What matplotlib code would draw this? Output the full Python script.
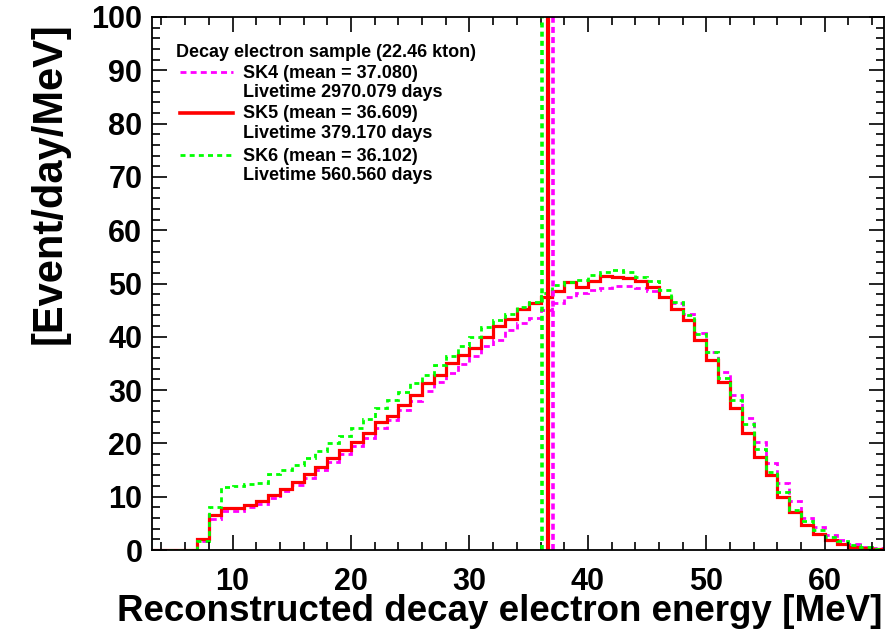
import numpy as np
import matplotlib
matplotlib.use("Agg")
import matplotlib.pyplot as plt
from matplotlib.lines import Line2D
from matplotlib.ticker import MultipleLocator

plt.rcParams['font.family'] = ['Liberation Sans', 'DejaVu Sans']
plt.rcParams['font.weight'] = 'bold'
plt.rcParams['lines.scale_dashes'] = False

# ---- data (Event/day/MeV per 1 MeV bin, lower edges 3..64) ----
bin_low_edges = list(range(3, 65))
sk4_values = [0, 0, 0, 0,
              1.7, 5.8, 7.3, 7.4, 8.0, 8.7, 9.8, 11.0, 12.2, 13.6, 15.0, 16.5, 18.0, 19.5,
              21.0, 22.8, 24.3, 26.3, 28.0, 29.8, 31.5, 33.2, 34.9, 36.4, 38.2, 39.4, 41.2,
              42.5, 43.5, 45.0, 46.3, 47.5, 48.2, 48.8, 49.2, 49.5, 49.5, 49.2, 48.5, 47.5,
              46.3, 44.3, 40.8, 37.2, 33.4, 29.1, 24.7, 20.3, 16.4, 12.5, 9.1, 6.0, 4.3, 2.8,
              1.9, 1.1, 0.6, 0.3]
sk5_values = [0, 0, 0, 0,
              2.0, 6.6, 7.8, 7.8, 8.4, 9.2, 10.3, 11.5, 12.8, 14.2, 15.6, 17.2, 18.8, 20.2,
              21.9, 24.0, 25.2, 27.2, 29.1, 31.3, 32.9, 35.0, 36.5, 37.9, 39.9, 42.0, 43.4,
              45.2, 46.3, 47.4, 48.5, 50.2, 49.4, 50.5, 51.4, 51.3, 51.1, 50.5, 49.3, 47.5,
              45.3, 43.1, 39.4, 35.7, 31.6, 26.6, 21.9, 17.5, 14.0, 9.9, 7.2, 4.7, 3.0, 1.9,
              1.1, 0.5, 0.3, 0.1]
sk6_values = [0, 0, 0, 0,
              1.6, 8.0, 11.9, 12.1, 12.3, 12.6, 14.2, 15.0, 15.9, 17.2, 18.5, 20.1, 21.4, 22.9,
              24.5, 26.6, 28.1, 29.7, 31.3, 32.8, 34.7, 36.4, 38.2, 40.0, 41.9, 43.1, 44.2,
              45.6, 46.6, 48.2, 49.7, 50.3, 50.7, 51.6, 52.2, 52.5, 52.2, 51.3, 50.5, 48.8,
              46.6, 44.1, 40.5, 37.1, 32.2, 28.1, 23.7, 18.9, 14.7, 10.8, 7.5, 5.5, 3.7, 2.4,
              1.6, 0.9, 0.5, 0.25]
sk_means = [37.080, 36.609, 36.102]
sk_names = ["SK4", "SK5", "SK6"]
sk_livetimes = ["2970.079", "379.170", "560.560"]
legend_title = "Decay electron sample (22.46 kton)"

edges = np.array(bin_low_edges + [bin_low_edges[-1] + 1], dtype=float)

W, H = 890, 632
fig = plt.figure(figsize=(W / 100, H / 100), dpi=100)
ax = fig.add_axes([152 / W, 1 - 550 / H, (884 - 152) / W, (550 - 17) / H])

styles = [
    dict(color="#FF00FF", lw=2.0, ls=(0, (4.3, 3.0))),
    dict(color="#FF0000", lw=2.3, ls="-"),
    dict(color="#00FF00", lw=2.0, ls=(0, (3.6, 3.0))),
]
series = [sk4_values, sk5_values, sk6_values]

for vals, st in zip(series, styles):
    ax.stairs(vals, edges, baseline=None, **st)

vstyles = [
    dict(color="#FF00FF", lw=2.6, ls=(0, (4.3, 3.0))),
    dict(color="#FF0000", lw=3.0, ls="-"),
    dict(color="#00FF00", lw=2.6, ls=(0, (3.6, 3.0))),
]
for m, st in zip(sk_means, vstyles):
    ax.axvline(m, **st)

ax.set_xlim(3.2, 65)
ax.set_ylim(0, 100)

ax.xaxis.set_major_locator(MultipleLocator(10))
ax.xaxis.set_minor_locator(MultipleLocator(2))
ax.yaxis.set_major_locator(MultipleLocator(10))
ax.yaxis.set_minor_locator(MultipleLocator(2))
ax.tick_params(which="both", direction="in", top=True, right=True, width=1.2, color="black")
ax.tick_params(which="major", length=11)
ax.tick_params(which="minor", length=6)
ax.tick_params(axis="both", which="major", labelsize=22)
ax.tick_params(axis="x", pad=12)
ax.tick_params(axis="y", pad=7)
for lab in ax.get_xticklabels() + ax.get_yticklabels():
    lab.set_fontweight("bold")
for sp in ax.spines.values():
    sp.set_linewidth(1.3)

fig.text(500 / W, 1 - 621 / H, "Reconstructed decay electron energy [MeV]",
         ha="center", va="baseline", fontsize=26.5, fontweight="bold")
fig.text(50 / W, 1 - 183 / H, "[Event/day/MeV]", rotation=90,
         ha="center", va="center", fontsize=30, fontweight="bold")

# legend
def fx(px):
    return px / W

def fy(py):
    return 1 - py / H

fig.text(fx(176), fy(57), legend_title, ha="left", va="baseline", fontsize=13, fontweight="bold")
line_y = [71.7, 113.3, 155]
name_base = [78, 118, 161.5]
live_base = [97, 138, 180]
leg_styles = [
    dict(color="#FF00FF", lw=2.0, ls=(0, (4.3, 3.0))),
    dict(color="#FF0000", lw=2.6, ls="-"),
    dict(color="#00FF00", lw=2.0, ls=(0, (3.6, 3.0))),
]
for i in range(3):
    fig.add_artist(Line2D([fx(180), fx(233)], [fy(line_y[i]), fy(line_y[i])],
                          transform=fig.transFigure, **leg_styles[i]))
    fig.text(fx(243), fy(name_base[i]), f"{sk_names[i]} (mean = {sk_means[i]:.3f})",
             ha="left", va="baseline", fontsize=13, fontweight="bold")
    fig.text(fx(243), fy(live_base[i]), f"Livetime {sk_livetimes[i]} days",
             ha="left", va="baseline", fontsize=13, fontweight="bold")

fig.savefig("out.png", dpi=100)
